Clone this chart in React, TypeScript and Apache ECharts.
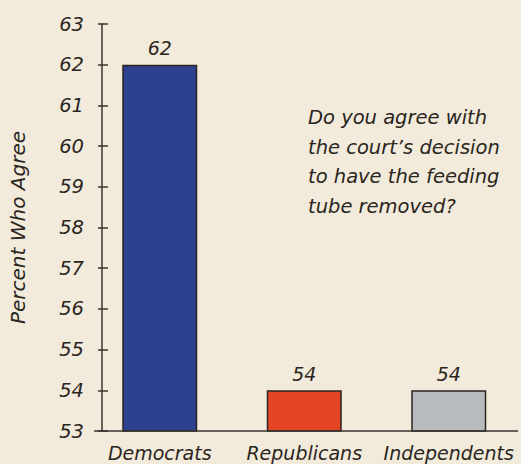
import React, { useEffect, useRef } from "react";
import * as echarts from "echarts";

const categories = ["Democrats", "Republicans", "Independents"];
const values = [62, 54, 54];
const barColors = ["#2e4191", "#e44625", "#b8bbbe"];
const yTicks = { min: 53, max: 63, interval: 1 };
const yAxisName = "Percent Who Agree";
const questionLines = [
  "Do you agree with",
  "the court\u2019s decision",
  "to have the feeding",
  "tube removed?",
];

const FONT = "DejaVu Sans";
const INK = "#2a2520";

export default function App() {
  const ref = useRef<HTMLDivElement>(null);
  useEffect(() => {
    if (!ref.current) return;
    const chart = echarts.init(ref.current, null, { renderer: "svg" });
    const textStyle = { fontFamily: FONT, fontStyle: "italic", fontWeight: 200, color: INK };
    const axisLineStyle = { color: "#3a3530", width: 1.5 };
    chart.setOption({
      animation: false,
      backgroundColor: "#f2eadb",
      grid: { left: 83.5, right: -6.5, top: 24, bottom: 33, containLabel: false },
      xAxis: {
        type: "category",
        data: categories,
        axisLine: { show: false },
        axisTick: { show: false },
        axisLabel: { ...textStyle, fontSize: 19, margin: 12, interval: 0, hideOverlap: false },
      },
      yAxis: [
        {
          type: "value",
          min: yTicks.min,
          max: yTicks.max,
          interval: yTicks.interval,
          offset: -14.5,
          name: yAxisName,
          nameLocation: "middle",
          nameGap: 74,
          nameTextStyle: { ...textStyle, fontSize: 20 },
          axisLine: { show: true, lineStyle: axisLineStyle },
          axisTick: { show: true, length: 4, lineStyle: axisLineStyle },
          axisLabel: { ...textStyle, fontSize: 19.5, margin: 18 },
          splitLine: { show: false },
        },
        {
          type: "value",
          min: yTicks.min,
          max: yTicks.max,
          interval: yTicks.interval,
          offset: -14.5,
          position: "left",
          axisLine: { show: false },
          axisTick: { show: true, inside: true, length: 6, lineStyle: axisLineStyle },
          axisLabel: { show: false },
          splitLine: { show: false },
        },
      ],
      series: [
        {
          type: "bar",
          barWidth: 75,
          data: values.map((v, i) => ({ value: v, itemStyle: { color: barColors[i] } })),
          itemStyle: { borderColor: "#2a2520", borderWidth: 1.5 },
          label: { show: true, position: "top", distance: 7, ...textStyle, fontSize: 19 },
        },
      ],
      graphic: [
        {
          type: "line",
          shape: { x1: 94, y1: 431, x2: 518, y2: 431 },
          style: { stroke: "#3a3530", lineWidth: 1.5 },
          z: 10,
        },
        {
          type: "text",
          left: 308,
          top: 103,
          style: {
            text: questionLines.join("\n"),
            fontFamily: FONT,
            fontStyle: "italic",
            fontWeight: 200,
            fontSize: 19.5,
            lineHeight: 29.5,
            fill: INK,
          },
        },
      ],
    });
    return () => chart.dispose();
  }, []);
  return (
    <div
      ref={ref}
      style={{ position: "fixed", left: 0, top: 0, width: 521, height: 464 }}
    />
  );
}
